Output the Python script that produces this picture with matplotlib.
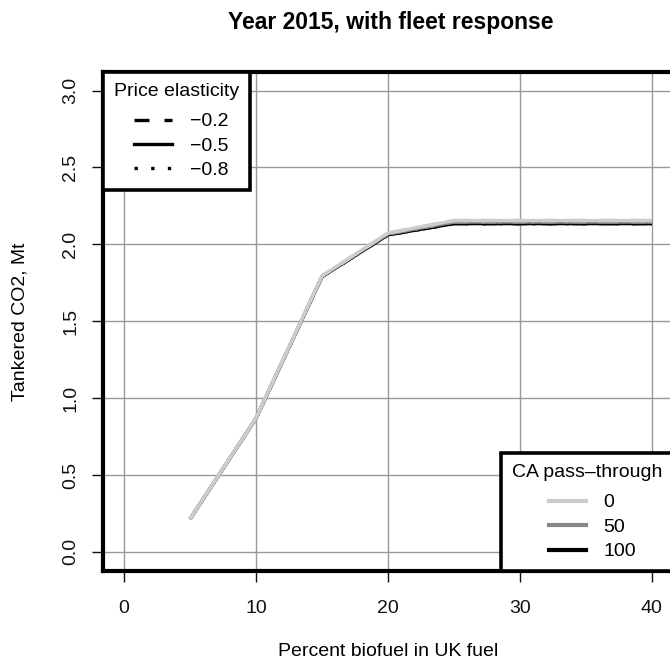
import matplotlib.pyplot as plt
from matplotlib.lines import Line2D

plt.rcParams['font.family'] = ['Liberation Sans', 'DejaVu Sans']

# percent biofuel
pct = [5, 10, 15, 20, 25, 30, 35, 40]
elasticities = ['\u22120.2', '\u22120.5', '\u22120.8']
passthrough = ['0', '50', '100']
# tankered CO2 (Mt) by pass-through, per elasticity
co2_pt0 = {
    '\u22120.2': [0.215, 0.871, 1.795, 2.074, 2.155, 2.155, 2.155, 2.155],
    '\u22120.5': [0.215, 0.871, 1.795, 2.074, 2.155, 2.155, 2.155, 2.155],
    '\u22120.8': [0.215, 0.871, 1.795, 2.074, 2.155, 2.155, 2.155, 2.155],
}
co2_pt50 = {
    '\u22120.2': [0.215, 0.870, 1.793, 2.068, 2.145, 2.145, 2.145, 2.145],
    '\u22120.5': [0.215, 0.870, 1.793, 2.068, 2.145, 2.145, 2.145, 2.145],
    '\u22120.8': [0.215, 0.870, 1.793, 2.068, 2.145, 2.145, 2.145, 2.145],
}
co2_pt100 = {
    '\u22120.2': [0.214, 0.869, 1.790, 2.062, 2.135, 2.135, 2.135, 2.135],
    '\u22120.5': [0.214, 0.869, 1.790, 2.062, 2.135, 2.135, 2.135, 2.135],
    '\u22120.8': [0.214, 0.869, 1.790, 2.062, 2.135, 2.135, 2.135, 2.135],
}

styles = {'\u22120.2': (0, (4.5, 4.5)), '\u22120.5': '-', '\u22120.8': (0, (1, 4))}
colours = {'0': '#cccccc', '50': '#888888', '100': '#000000'}

fig = plt.figure(figsize=(6.7, 6.66), dpi=100)
ax = fig.add_axes([103 / 670, 1 - 571 / 666, 570 / 670, 499 / 666])

ax.set_xlim(-1.6, 41.6)
ax.set_ylim(-0.124, 3.121)
ax.set_xticks([0, 10, 20, 30, 40])
ax.set_yticks([0, 0.5, 1, 1.5, 2, 2.5, 3])
ax.set_yticklabels(['0.0', '0.5', '1.0', '1.5', '2.0', '2.5', '3.0'], rotation=90, va='center')
ax.grid(True, color='#999999', lw=1)
ax.set_axisbelow(True)
ax.tick_params(length=8, width=1, labelsize=14, colors='#111111')
ax.tick_params(axis='x', pad=13)
ax.tick_params(axis='y', pad=9)
for s in ax.spines.values():
    s.set_linewidth(3)

for pt, data in [('100', co2_pt100), ('50', co2_pt50), ('0', co2_pt0)]:
    for el in elasticities:
        ax.plot(pct, data[el], color=colours[pt], ls=styles[el], lw=2.4,
                solid_capstyle='butt', dash_capstyle='butt')

fig.text(391 / 670, 1 - 22 / 666, 'Year 2015, with fleet response', fontsize=16.5,
         fontweight='bold', ha='center', va='center')
ax.set_xlabel('Percent biofuel in UK fuel', fontsize=14, va='center')
ax.xaxis.set_label_coords(0.5, (571 - 652) / 499)
ax.set_ylabel('Tankered CO2, Mt', fontsize=14, va='center')
ax.yaxis.set_label_coords((20 - 103) / 570, 0.5)


def make_legend(handles, labels, title, loc, hlen, start):
    leg = ax.legend(handles, labels, title=title, loc=loc, borderaxespad=0,
                    fancybox=False, framealpha=1, edgecolor='black', fontsize=14,
                    title_fontsize=14, handlelength=hlen, handletextpad=0.9,
                    labelspacing=0.35, borderpad=0.55, alignment='left')
    leg.get_frame().set_linewidth(2.6)
    # extra room under the title
    leg._legend_box.sep += 4.5
    # indent the line samples like R does
    w = hlen * 14
    for ln in leg.get_lines():
        yy = ln.get_ydata()[0]
        ln.set_data([w * start, w], [yy, yy])
    return leg


h1 = [Line2D([], [], color='black', ls=styles[e], lw=2.4) for e in elasticities]
leg1 = make_legend(h1, elasticities, 'Price elasticity', 'upper left', 3.0, 0.34)
ax.add_artist(leg1)

h2 = [Line2D([], [], color=colours[p], lw=3) for p in passthrough]
leg2 = make_legend(h2, passthrough, 'CA pass\u2013through', 'lower right', 3.8, 0.5)

fig.savefig('out.png', dpi=100)
